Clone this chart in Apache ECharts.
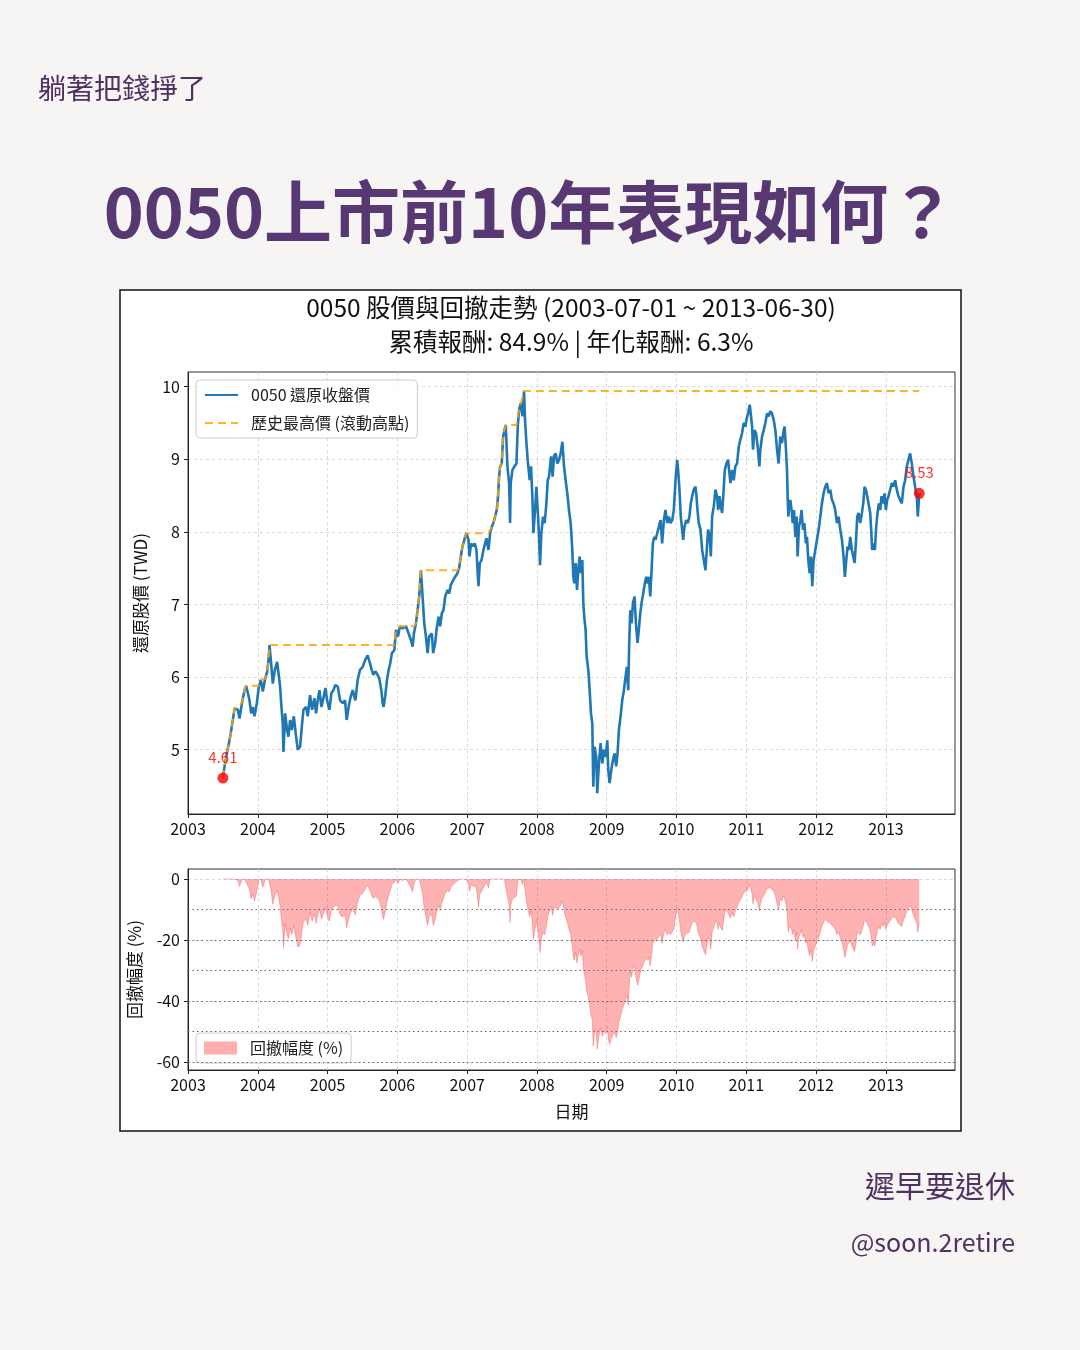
<!DOCTYPE html>
<html>
<head>
<meta charset="utf-8">
<title>0050上市前10年表現如何？</title>
<script src="https://cdn.jsdelivr.net/npm/echarts@6.0.0/dist/echarts.min.js"></script>
<style>
  html, body { margin: 0; padding: 0; background: #f6f5f3; }
  #main { width: 1080px; height: 1350px; }
</style>
</head>
<body>
<div id="main"></div>
<script>
// 日期用小數年 (2003.500 ≈ 2003-07-01)，數值由圖上讀取
const dateT = [
  2003.500, 2003.524, 2003.557, 2003.595, 2003.643, 2003.667, 2003.714, 2003.738, 2003.776, 2003.810,
  2003.834, 2003.881, 2003.905, 2003.929, 2003.953, 2003.986,
  2004.015, 2004.044, 2004.072, 2004.106, 2004.134, 2004.153, 2004.168, 2004.191, 2004.215, 2004.244,
  2004.277, 2004.301, 2004.320, 2004.335, 2004.358, 2004.368, 2004.392, 2004.420, 2004.439, 2004.463,
  2004.487, 2004.516, 2004.549, 2004.573, 2004.606, 2004.635, 2004.654, 2004.692, 2004.716, 2004.749,
  2004.778, 2004.811, 2004.835, 2004.859, 2004.883, 2004.912, 2004.940, 2004.969, 2004.993,
  2005.026, 2005.055, 2005.083, 2005.112, 2005.145, 2005.179, 2005.217, 2005.250, 2005.274, 2005.302,
  2005.326, 2005.360, 2005.398, 2005.431, 2005.465, 2005.503, 2005.541, 2005.574, 2005.608, 2005.632,
  2005.655, 2005.684, 2005.717, 2005.741, 2005.770, 2005.789, 2005.803, 2005.827, 2005.851, 2005.875,
  2005.898, 2005.922, 2005.956, 2005.980,
  2006.008, 2006.037, 2006.075, 2006.123, 2006.161, 2006.194, 2006.218, 2006.237, 2006.266, 2006.290,
  2006.313, 2006.337, 2006.361, 2006.385, 2006.409, 2006.433, 2006.456, 2006.494, 2006.513, 2006.542,
  2006.561, 2006.590, 2006.613, 2006.637, 2006.661, 2006.685, 2006.718, 2006.742, 2006.766, 2006.790,
  2006.814, 2006.838, 2006.861, 2006.885, 2006.909, 2006.933, 2006.971, 2006.990,
  2007.019, 2007.033, 2007.057, 2007.086, 2007.109, 2007.133, 2007.162, 2007.181, 2007.205, 2007.233,
  2007.257, 2007.276, 2007.305, 2007.329, 2007.353, 2007.376, 2007.400, 2007.424, 2007.443, 2007.457,
  2007.472, 2007.496, 2007.515, 2007.534, 2007.553, 2007.577, 2007.601, 2007.615, 2007.624, 2007.648,
  2007.677, 2007.706, 2007.725, 2007.744, 2007.768, 2007.792, 2007.815, 2007.829, 2007.849, 2007.872,
  2007.896, 2007.915, 2007.934, 2007.949, 2007.973, 2007.992,
  2008.016, 2008.030, 2008.044, 2008.063, 2008.087, 2008.111, 2008.135, 2008.154, 2008.173, 2008.202,
  2008.225, 2008.244, 2008.268, 2008.292, 2008.316, 2008.340, 2008.364, 2008.388, 2008.411, 2008.435,
  2008.459, 2008.483, 2008.507, 2008.521, 2008.535, 2008.555, 2008.574, 2008.593, 2008.612, 2008.631,
  2008.650, 2008.664, 2008.678, 2008.697, 2008.712, 2008.736, 2008.755, 2008.774, 2008.793, 2008.807,
  2008.826, 2008.850, 2008.864, 2008.888, 2008.912, 2008.936, 2008.960, 2008.984,
  2009.008, 2009.022, 2009.041, 2009.065, 2009.089, 2009.112, 2009.136, 2009.155, 2009.174, 2009.198,
  2009.222, 2009.246, 2009.270, 2009.289, 2009.308, 2009.322, 2009.337, 2009.356, 2009.375, 2009.399,
  2009.418, 2009.441, 2009.460, 2009.480, 2009.499, 2009.523, 2009.546, 2009.565, 2009.585, 2009.604,
  2009.623, 2009.642, 2009.661, 2009.680, 2009.699, 2009.723, 2009.747, 2009.771, 2009.794, 2009.818,
  2009.842, 2009.866, 2009.890, 2009.914, 2009.938, 2009.961, 2009.985,
  2010.009, 2010.023, 2010.042, 2010.061, 2010.080, 2010.095, 2010.114, 2010.138, 2010.162, 2010.185,
  2010.204, 2010.224, 2010.247, 2010.271, 2010.286, 2010.300, 2010.319, 2010.343, 2010.367, 2010.391,
  2010.414, 2010.433, 2010.453, 2010.476, 2010.491, 2010.510, 2010.534, 2010.557, 2010.581, 2010.596,
  2010.615, 2010.634, 2010.653, 2010.672, 2010.691, 2010.715, 2010.739, 2010.772, 2010.796, 2010.820,
  2010.843, 2010.867, 2010.891, 2010.915, 2010.939, 2010.963, 2010.987,
  2011.001, 2011.025, 2011.049, 2011.068, 2011.082, 2011.096, 2011.115, 2011.139, 2011.163, 2011.187,
  2011.201, 2011.225, 2011.249, 2011.273, 2011.297, 2011.320, 2011.344, 2011.368, 2011.392, 2011.416,
  2011.440, 2011.463, 2011.487, 2011.511, 2011.535, 2011.549, 2011.568, 2011.583, 2011.592, 2011.602,
  2011.616, 2011.630, 2011.649, 2011.664, 2011.683, 2011.702, 2011.721, 2011.735, 2011.754, 2011.773,
  2011.792, 2011.811, 2011.831, 2011.854, 2011.869, 2011.888, 2011.907, 2011.926, 2011.945, 2011.964,
  2011.988,
  2012.012, 2012.036, 2012.060, 2012.083, 2012.107, 2012.131, 2012.155, 2012.179, 2012.203, 2012.227,
  2012.250, 2012.274, 2012.298, 2012.322, 2012.346, 2012.370, 2012.393, 2012.412, 2012.432, 2012.451,
  2012.470, 2012.489, 2012.513, 2012.532, 2012.551, 2012.570, 2012.589, 2012.608, 2012.632, 2012.656,
  2012.675, 2012.694, 2012.713, 2012.732, 2012.751, 2012.775, 2012.789, 2012.803, 2012.823, 2012.842,
  2012.861, 2012.880, 2012.899, 2012.918, 2012.937, 2012.961, 2012.980, 2012.999,
  2013.018, 2013.037, 2013.061, 2013.085, 2013.109, 2013.133, 2013.156, 2013.180, 2013.204, 2013.228,
  2013.252, 2013.276, 2013.299, 2013.323, 2013.347, 2013.371, 2013.395, 2013.419, 2013.443, 2013.457,
  2013.478
];

const closePx = [
  4.61, 4.77, 4.95, 5.13, 5.41, 5.57, 5.55, 5.43, 5.66, 5.82,
  5.88, 5.68, 5.50, 5.59, 5.46, 5.64,
  5.87, 5.96, 5.80, 5.98, 6.07, 6.24, 6.44, 6.19, 5.91, 6.10,
  6.21, 6.19, 5.87, 5.64, 5.36, 4.97, 5.50, 5.27, 5.18, 5.41,
  5.27, 5.46, 5.18, 5.00, 5.04, 5.36, 5.55, 5.59, 5.46, 5.75,
  5.55, 5.71, 5.50, 5.68, 5.82, 5.59, 5.71, 5.85, 5.68,
  5.55, 5.78, 5.82, 5.89, 5.87, 5.68, 5.64, 5.68, 5.41, 5.59,
  5.71, 5.82, 5.68, 5.96, 6.10, 6.14, 6.24, 6.30, 6.19, 6.10,
  6.03, 6.08, 6.03, 5.98, 5.82, 5.64, 5.59, 5.75, 5.96, 6.10,
  6.19, 6.33, 6.37, 6.65,
  6.56, 6.70, 6.67, 6.70, 6.60, 6.51, 6.42, 6.60, 6.74, 6.92,
  7.11, 7.47, 7.11, 6.74, 6.56, 6.33, 6.56, 6.60, 6.33, 6.47,
  6.65, 6.83, 6.70, 6.88, 6.92, 7.11, 7.20, 7.15, 7.27, 7.29,
  7.36, 7.34, 7.43, 7.50, 7.66, 7.80, 7.93, 7.98,
  7.89, 7.66, 7.84, 7.80, 7.84, 7.75, 7.25, 7.57, 7.61, 7.75,
  7.84, 7.91, 7.75, 7.98, 8.07, 8.12, 8.21, 8.30, 8.49, 8.76,
  8.90, 8.94, 9.31, 9.40, 9.47, 8.90, 8.67, 8.12, 8.67, 8.85,
  8.90, 8.94, 9.45, 9.68, 9.77, 9.59, 9.94, 9.54, 9.22, 8.94,
  8.71, 8.90, 8.49, 7.98, 8.30, 8.62,
  8.21, 7.93, 7.54, 7.98, 8.21, 8.12, 8.39, 8.71, 8.76, 9.04,
  8.76, 9.04, 9.08, 8.94, 8.99, 9.08, 9.24, 8.90, 8.71, 8.53,
  8.30, 8.12, 7.75, 7.38, 7.29, 7.57, 7.20, 7.48, 7.66, 7.43,
  7.61, 7.02, 6.83, 6.65, 6.28, 6.10, 5.82, 5.50, 5.36, 4.49,
  5.04, 4.90, 4.40, 4.81, 5.09, 4.81, 5.00, 4.90,
  5.13, 4.72, 4.54, 4.72, 4.86, 4.95, 4.77, 4.95, 5.27, 5.46,
  5.68, 5.82, 6.01, 6.14, 5.82, 6.47, 6.92, 6.74, 7.02, 7.11,
  6.74, 6.47, 6.65, 6.88, 7.02, 7.15, 7.29, 7.38, 7.29, 7.38,
  7.11, 7.47, 7.84, 7.93, 7.89, 7.98, 8.07, 8.16, 7.84, 8.16,
  8.30, 8.12, 8.21, 8.12, 8.16, 8.30, 8.71,
  8.99, 8.85, 8.58, 8.21, 8.03, 7.89, 8.07, 8.16, 8.12, 8.21,
  8.39, 8.49, 8.58, 8.62, 8.49, 8.30, 8.12, 8.03, 7.75, 7.61,
  7.47, 7.75, 8.03, 7.93, 7.66, 8.21, 8.35, 8.58, 8.49, 8.30,
  8.49, 8.35, 8.26, 8.53, 8.85, 8.94, 8.99, 8.67, 8.85, 8.71,
  8.90, 8.94, 9.17, 9.27, 9.36, 9.50, 9.45,
  9.54, 9.63, 9.75, 9.59, 9.45, 9.13, 9.40, 9.36, 9.17, 8.90,
  9.13, 9.31, 9.40, 9.50, 9.63, 9.59, 9.66, 9.63, 9.54, 9.40,
  9.13, 8.94, 9.31, 9.22, 9.40, 9.45, 9.13, 8.85, 8.49, 8.21,
  8.39, 8.44, 8.30, 8.12, 8.30, 7.93, 8.21, 7.66, 8.07, 8.16,
  8.30, 8.03, 8.12, 7.84, 7.93, 7.61, 7.43, 7.66, 7.25, 7.61,
  7.75,
  7.89, 8.03, 8.21, 8.39, 8.53, 8.62, 8.67, 8.53, 8.58, 8.44,
  8.39, 8.30, 8.12, 8.21, 8.03, 7.89, 7.66, 7.38, 7.61, 7.80,
  7.75, 7.93, 7.75, 7.66, 7.57, 7.84, 8.21, 8.26, 8.12, 8.26,
  8.39, 8.62, 8.58, 8.49, 8.39, 8.26, 8.03, 7.75, 7.84, 7.75,
  8.07, 8.26, 8.39, 8.30, 8.49, 8.39, 8.53, 8.30,
  8.44, 8.49, 8.58, 8.67, 8.62, 8.71, 8.58, 8.49, 8.44, 8.39,
  8.62, 8.71, 8.90, 8.99, 9.08, 8.94, 8.76, 8.62, 8.49, 8.21,
  8.53
];

const yearTicks = [2003, 2004, 2005, 2006, 2007, 2008, 2009, 2010, 2011, 2012, 2013];
const priceTicks = [5, 6, 7, 8, 9, 10];
const ddTicks = [-60, -40, -20, 0];
const ddGuides = [-10, -20, -30, -40, -50, -60];

// 滾動高點與回撤
const runMax = [];
const drawdown = [];
closePx.forEach((p, i) => {
  const m = i === 0 ? p : Math.max(runMax[i - 1], p);
  runMax.push(m);
  drawdown.push((p / m - 1) * 100);
});

const FONT = '"Noto Sans CJK TC", "Noto Sans CJK SC", "Noto Sans", sans-serif';
const last = closePx.length - 1;

const chart = echarts.init(document.getElementById('main'));

const xAxisBase = {
  type: 'value',
  min: 2003,
  max: 2013.99,
  axisLine: { show: true, onZero: false, lineStyle: { color: '#222' } },
  axisTick: { show: true, length: 4, customValues: yearTicks, lineStyle: { color: '#222' } },
  axisLabel: {
    customValues: yearTicks, fontSize: 16, color: '#111', margin: 7, fontFamily: FONT,
    formatter: v => String(v)
  },
  splitLine: { show: true, lineStyle: { color: '#d0d0d0', type: [3, 3], width: 0.8 } }
};

const option = {
  backgroundColor: '#f6f5f3',
  animation: false,
  textStyle: { fontFamily: FONT },
  graphic: [
    {
      type: 'rect', z: -10,
      shape: { x: 120, y: 290, width: 841, height: 841 },
      style: { fill: '#ffffff', stroke: '#111', lineWidth: 1.5 }
    },
    {
      type: 'text', x: 38, y: 88,
      style: { text: '躺著把錢掙了', font: '28px ' + FONT, fill: '#4f3163', align: 'left', verticalAlign: 'middle' }
    },
    {
      type: 'text', x: 530, y: 212,
      style: { text: '0050上市前10年表現如何？', font: 'bold 68px ' + FONT, fill: '#583873', align: 'center', verticalAlign: 'middle' }
    },
    {
      type: 'text', x: 571, y: 308,
      style: { text: '0050 股價與回撤走勢 (2003-07-01 ~ 2013-06-30)', font: '24.5px ' + FONT, fill: '#111', align: 'center', verticalAlign: 'middle' }
    },
    {
      type: 'text', x: 571, y: 342,
      style: { text: '累積報酬: 84.9% | 年化報酬: 6.3%', font: '24.5px ' + FONT, fill: '#111', align: 'center', verticalAlign: 'middle' }
    },
    {
      type: 'text', x: 1015, y: 1186,
      style: { text: '遲早要退休', font: '30px ' + FONT, fill: '#4f3163', align: 'right', verticalAlign: 'middle' }
    },
    {
      type: 'text', x: 1015, y: 1242,
      style: { text: '@soon.2retire', font: '25px ' + FONT, fill: '#4f3163', align: 'right', verticalAlign: 'middle' }
    }
  ],
  legend: [
    {
      left: 196, top: 380, orient: 'vertical',
      itemWidth: 33, itemHeight: 14, itemGap: 12,
      padding: [7, 8, 7, 8],
      backgroundColor: 'rgba(255,255,255,0.85)',
      borderColor: '#cccccc', borderWidth: 1, borderRadius: 4,
      itemStyle: { opacity: 0 },
      textStyle: { fontSize: 16, color: '#222', fontFamily: FONT, padding: [0, 0, 0, 8] },
      data: ['0050 還原收盤價', '歷史最高價 (滾動高點)']
    },
    {
      left: 196, top: 1033, orient: 'vertical',
      itemWidth: 33, itemHeight: 13,
      padding: [7, 8, 7, 8],
      backgroundColor: 'rgba(255,255,255,0.85)',
      borderColor: '#cccccc', borderWidth: 1, borderRadius: 4,
      textStyle: { fontSize: 16, color: '#222', fontFamily: FONT, padding: [0, 0, 0, 8] },
      data: [{ name: '回撤幅度 (%)', icon: 'rect', itemStyle: { color: 'rgba(255,0,0,0.32)' } }]
    }
  ],
  grid: [
    { left: 188, top: 372, width: 767, height: 442, show: true, backgroundColor: '#fff', borderColor: '#333', borderWidth: 1 },
    { left: 188, top: 869, width: 767, height: 201, show: true, backgroundColor: '#fff', borderColor: '#333', borderWidth: 1 }
  ],
  xAxis: [
    Object.assign({}, xAxisBase, { gridIndex: 0 }),
    Object.assign({}, xAxisBase, {
      gridIndex: 1,
      name: '日期', nameLocation: 'middle', nameGap: 33,
      nameTextStyle: { fontSize: 17, color: '#111', fontFamily: FONT }
    })
  ],
  yAxis: [
    {
      type: 'value', gridIndex: 0, min: 4.115, max: 10.2,
      name: '還原股價 (TWD)', nameLocation: 'middle', nameGap: 39,
      nameTextStyle: { fontSize: 17, color: '#111', fontFamily: FONT },
      axisLine: { show: true, lineStyle: { color: '#222' } },
      axisTick: { show: true, length: 4, customValues: priceTicks, lineStyle: { color: '#222' } },
      axisLabel: { customValues: priceTicks, fontSize: 16, color: '#111', margin: 8, fontFamily: FONT },
      splitLine: { show: true, lineStyle: { color: '#d0d0d0', type: [3, 3], width: 0.8 } }
    },
    {
      type: 'value', gridIndex: 1, min: -62.7, max: 3.3,
      name: '回撤幅度 (%)', nameLocation: 'middle', nameGap: 45,
      nameTextStyle: { fontSize: 17, color: '#111', fontFamily: FONT },
      axisLine: { show: true, lineStyle: { color: '#222' } },
      axisTick: { show: true, length: 4, customValues: ddTicks, lineStyle: { color: '#222' } },
      axisLabel: { customValues: ddTicks, fontSize: 16, color: '#111', margin: 8, fontFamily: FONT },
      splitLine: { show: true, lineStyle: { color: '#d0d0d0', type: [3, 3], width: 0.8 } }
    }
  ],
  series: [
    {
      name: '0050 還原收盤價', type: 'line', xAxisIndex: 0, yAxisIndex: 0,
      data: dateT.map((t, i) => [t, closePx[i]]),
      symbol: 'none', z: 3,
      itemStyle: { color: '#1f77b4' },
      lineStyle: { color: '#1f77b4', width: 2.6 }
    },
    {
      name: '歷史最高價 (滾動高點)', type: 'line', xAxisIndex: 0, yAxisIndex: 0,
      data: dateT.map((t, i) => [t, runMax[i]]),
      symbol: 'none', z: 4,
      itemStyle: { color: '#ffa500' },
      lineStyle: { color: 'rgba(255,165,0,0.85)', width: 2, type: [8, 5] }
    },
    {
      name: '起訖', type: 'scatter', xAxisIndex: 0, yAxisIndex: 0, z: 5,
      data: [[dateT[0], closePx[0]], [dateT[last], closePx[last]]],
      symbolSize: 11,
      itemStyle: { color: '#ff0000' },
      label: {
        show: true, position: 'top', distance: 8, color: '#ff0000', fontSize: 15, fontFamily: FONT,
        formatter: p => p.value[1].toFixed(2)
      }
    },
    {
      name: '回撤幅度 (%)', type: 'line', xAxisIndex: 1, yAxisIndex: 1,
      data: dateT.map((t, i) => [t, drawdown[i]]),
      symbol: 'none', z: 3,
      itemStyle: { color: 'rgba(255,0,0,0.32)' },
      lineStyle: { color: 'rgba(235,70,70,0.45)', width: 0.8 },
      areaStyle: { color: 'rgba(255,0,0,0.3)', opacity: 1 },
      markLine: {
        silent: true, symbol: 'none', z: 6,
        label: { show: false },
        lineStyle: { color: '#666', type: [1.5, 3], width: 1.2 },
        data: ddGuides.map(v => ({ yAxis: v }))
      }
    }
  ]
};

chart.setOption(option);
</script>
</body>
</html>
